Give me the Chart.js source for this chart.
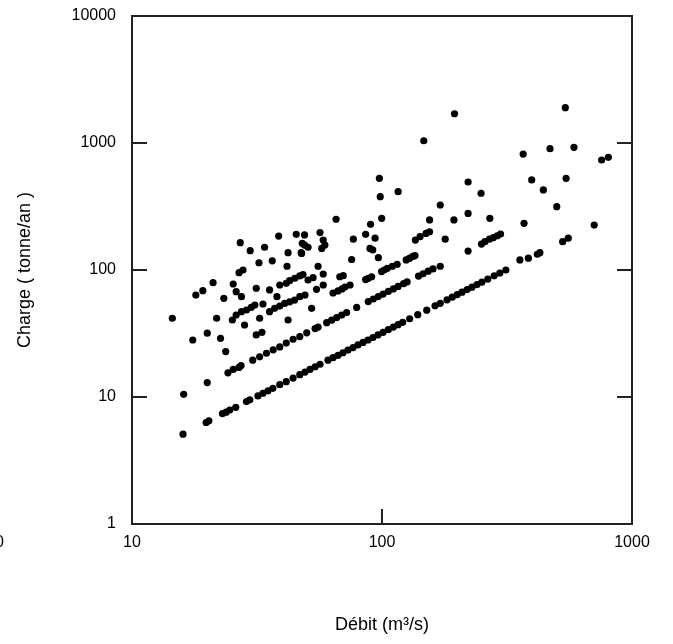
<!DOCTYPE html>
<html><head><meta charset="utf-8">
<script src="https://cdn.jsdelivr.net/npm/chart.js@4/dist/chart.umd.min.js"></script>
<style>html,body{margin:0;padding:0;background:#fff}</style>
</head><body>
<canvas id="c" width="673" height="644"></canvas>
<script>
// Tick values and labels
const xTickValues = [10, 100, 1000];
const xTickLabels = ["10", "100", "1000"];
const yTickValues = [1, 10, 100, 1000, 10000];
const yTickLabels = ["1", "10", "100", "1000", "10000"];
const xTitle = "Débit (m³/s)";
const yTitle = "Charge ( tonne/an )";
const strayLabel = "10";

// Band 1 (lowest line)
const band1Debit  = [16,19.8,20.3,23,23.8,24.6,26,28.7,29.6,31.9,33.4,35,36.6,39,41.4,44.1,46.9,49.2,51.5,54,56.5,60.8,63.7,66.7,69.8,73.1,76.6,80.2,84,87.9,92,96.4,101,106,111,116,121,129,139,151,163,171,182,191,200,209,219,229,240,251,265,281,296,313,356,385,418,428,528,556,706];
const band1Charge = [5.1,6.3,6.5,7.4,7.6,7.9,8.3,9.2,9.5,10.2,10.7,11.2,11.7,12.5,13.2,14.1,15.0,15.7,16.5,17.3,18.1,19.5,20.4,21.3,22.3,23.4,24.5,25.7,26.9,28.1,29.4,30.8,32.3,33.9,35.5,37.1,38.7,41.3,44.5,48.3,52.2,54.7,58.2,61.1,64,66.9,70.1,73.3,76.8,80.3,84.8,89.9,94.7,100,120,124,133,137,167,178,226];

// Band 2
const band2Debit  = [16.1,20,24.2,25.4,26.8,27.3,30.4,32.4,34.5,36.7,39,41.4,44.1,46.9,50,54,55.5,60.1,62.9,65.9,69,72.2,79.2,88.1,92.3,96.6,101,106,111,116,122,126,140,146,153,160,171,221,250,258,269,279,289,298];
const band2Charge = [10.5,13.0,15.5,16.5,17.1,17.7,19.5,20.7,22.1,23.5,24.8,26.6,28.5,29.9,32.0,34.6,35.5,38.5,40.3,42.2,44.2,46.2,50.7,56.4,59.1,61.8,64.6,67.8,71.0,74.2,78.1,80.6,89.6,93.4,97.9,102,107,141,160,167,175,180,186,192];

// Band 3
const band3Debit  = [23.7,31.4,33.1,42.1,52.3,63.7,66.7,69.2,71.1,74.5,86,88.1,90.9,99.6,102,105,110,115,125,129,133,135.5,179];
const band3Charge = [22.8,30.8,32.3,40.4,49.9,65.9,68.4,70.9,73.5,76.2,84,86,88.5,97.1,100,103,107,111,120,124,128,130,175];

// Band 4
const band4Debit  = [22.6,28.2,32.4,35.5,37.2,39,40.8,42.7,44.7,46.9,49.2,54.7,58.2,67.8,70,136,142,150,155];
const band4Charge = [29.0,36.9,41.7,47.0,49.9,52,54.6,56.2,58,61.6,63.5,70.5,76.2,88.5,90.2,172,183,194,200];

// Band 5 and 6
const band5Debit  = [17.5,20,26.1,27.4,28.7,30,31,33.4];
const band5Charge = [28.1,31.8,44.2,47,48.4,50.8,52.9,54];
const band6Debit  = [39,41.4,42.7,44.8,46.9,48.3,50.6,53];
const band6Charge = [76.2,78.6,82.4,86.1,89.8,92,83.4,87];

// Scattered high values
const highDebit  = [14.5,21.8,25.2,18,19.2,21.1,23.3,25.4,26.1,27.4,31.4,35.5,38,26.8,27.8,32.2,36.4,41.7,27.1,29.7,33.9,38.6,45.4,42.1,47.5,48,49,56.5,49,50.6,58.2,59.1,57.4,47.7,55.5,58.2,65.5,76.8,75.6,86,93.8,89.5,91.8,90,96.7,97.6,98.4,99.7,116,147,171,155,194,195,541,367,470,586,756,804,221,249,397,442,545,500,221,270,370];
const highCharge = [41.7,41.7,40.4,63.5,68.7,79.4,59.8,77.6,67.5,61.6,71.8,69.7,61.6,95.2,100,114,118,107,164,142,151,185,191,137,137,162,189,197,157,151,172,157,148,135,107,93,251,175,121,191,178,148,144,229,125,527,378,255,414,1042,325,248,248,1700,1897,818,902,925,735,771,493,402,512,427,527,315,279,255,233];

function pairs(xs, ys) { return xs.map((x, i) => ({ x: x, y: ys[i] })); }
const points = [].concat(
  pairs(band1Debit, band1Charge),
  pairs(band2Debit, band2Charge),
  pairs(band3Debit, band3Charge),
  pairs(band4Debit, band4Charge),
  pairs(band5Debit, band5Charge),
  pairs(band6Debit, band6Charge),
  pairs(highDebit, highCharge)
);

const FONT = "'Liberation Sans', Arial, sans-serif";

const framePlugin = {
  id: 'frame',
  afterDatasetsDraw(chart) {
    const { ctx, chartArea: a, scales } = chart;
    ctx.save();
    ctx.strokeStyle = '#222';
    ctx.lineWidth = 2;
    ctx.strokeRect(a.left, a.top, a.right - a.left, a.bottom - a.top);
    const tl = 15;
    ctx.beginPath();
    xTickValues.slice(1, -1).forEach(v => {
      const px = Math.round(scales.x.getPixelForValue(v));
      ctx.moveTo(px, a.bottom); ctx.lineTo(px, a.bottom - tl);
    });
    yTickValues.slice(1, -1).forEach(v => {
      const py = Math.round(scales.y.getPixelForValue(v));
      ctx.moveTo(a.left, py); ctx.lineTo(a.left + tl, py);
      ctx.moveTo(a.right, py); ctx.lineTo(a.right - tl, py);
    });
    ctx.stroke();
    // partially visible label at far left (from neighbouring panel)
    ctx.fillStyle = '#000';
    ctx.font = "16px " + FONT;
    ctx.textAlign = 'right';
    ctx.textBaseline = 'middle';
    ctx.fillText(strayLabel, 4, 543);
    ctx.restore();
  }
};

new Chart(document.getElementById('c'), {
  type: 'scatter',
  data: { datasets: [{ data: points, pointRadius: 3.6, pointBackgroundColor: '#000', pointBorderColor: '#000', pointBorderWidth: 0, pointHoverRadius: 3.6 }] },
  options: {
    responsive: false,
    animation: false,
    events: [],
    layout: { padding: { left: 0, right: 41, top: 16, bottom: 0 } },
    plugins: { legend: { display: false }, tooltip: { enabled: false } },
    scales: {
      x: {
        type: 'logarithmic', min: 10, max: 1000,
        afterBuildTicks: s => { s.ticks = xTickValues.map(v => ({ value: v })); },
        afterFit: s => { s.height = 120; },
        grid: { display: false, drawTicks: false },
        border: { display: false },
        ticks: {
          autoSkip: false, maxRotation: 0, padding: 9, color: '#000',
          font: { family: FONT, size: 16 },
          callback: (v) => xTickLabels[xTickValues.indexOf(v)]
        },
        title: { display: true, text: xTitle, color: '#000', font: { family: FONT, size: 18 }, padding: { top: 0, bottom: 8 } }
      },
      y: {
        type: 'logarithmic', min: 1, max: 10000,
        afterBuildTicks: s => { s.ticks = yTickValues.map(v => ({ value: v })); },
        afterFit: s => { s.width = 132; },
        grid: { display: false, drawTicks: true, tickLength: 12 },
        border: { display: false },
        ticks: {
          autoSkip: false, padding: 4, color: '#000',
          font: { family: FONT, size: 16 },
          callback: (v) => yTickLabels[yTickValues.indexOf(v)]
        },
        title: { display: true, text: yTitle, color: '#000', font: { family: FONT, size: 18 }, padding: { top: 14, bottom: 0 } }
      }
    }
  },
  plugins: [framePlugin]
});
</script>
</body></html>
